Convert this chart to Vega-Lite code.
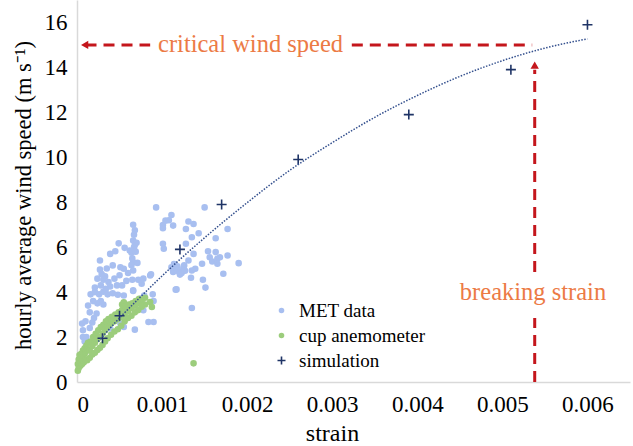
{
  "$schema": "https://vega.github.io/schema/vega-lite/v6.json",
  "width": 553,
  "height": 382,
  "autosize": {"type": "none"},
  "padding": {"left": 77, "top": 0, "right": 3, "bottom": 64},
  "background": "white",
  "config": {
    "font": "Liberation Serif",
    "view": {"stroke": null},
    "axis": {"grid": false, "ticks": false, "domainColor": "#d9d9d9", "domainWidth": 1.5, "labelColor": "#000000", "labelFontSize": 23, "titleFontSize": 22.5, "titleFontWeight": "normal", "titleColor": "#000000", "labelFont": "Liberation Serif", "titleFont": "Liberation Serif"},
    "legend": {"labelFont": "Liberation Serif"},
    "text": {"font": "Liberation Serif"}
  },
  "datasets": {
    "pts": [
      {"s":0.00007,"v":2.3,"g":"MET data"},{"s":0.00007,"v":2.0,"g":"MET data"},{"s":0.00009,"v":1.8,"g":"MET data"},{"s":0.00011,"v":2.0,"g":"MET data"},{"s":0.00006,"v":2.6,"g":"MET data"},{"s":0.0001,"v":2.7,"g":"MET data"},{"s":0.00015,"v":2.4,"g":"MET data"},{"s":0.00018,"v":2.65,"g":"MET data"},{"s":0.00015,"v":3.1,"g":"MET data"},{"s":0.0002,"v":2.85,"g":"MET data"},{"s":0.00023,"v":3.05,"g":"MET data"},{"s":0.00013,"v":3.4,"g":"MET data"},{"s":0.00019,"v":3.6,"g":"MET data"},{"s":0.00024,"v":3.5,"g":"MET data"},{"s":0.00028,"v":3.6,"g":"MET data"},{"s":0.00031,"v":3.45,"g":"MET data"},{"s":0.00016,"v":3.9,"g":"MET data"},{"s":0.00021,"v":4.0,"g":"MET data"},{"s":0.00026,"v":3.9,"g":"MET data"},{"s":0.00031,"v":4.02,"g":"MET data"},{"s":0.00036,"v":3.9,"g":"MET data"},{"s":0.00042,"v":3.95,"g":"MET data"},{"s":0.00048,"v":3.88,"g":"MET data"},{"s":0.00055,"v":3.85,"g":"MET data"},{"s":0.00066,"v":4.05,"g":"MET data"},{"s":0.00021,"v":4.2,"g":"MET data"},{"s":0.00028,"v":4.3,"g":"MET data"},{"s":0.00034,"v":4.15,"g":"MET data"},{"s":0.00039,"v":4.25,"g":"MET data"},{"s":0.00047,"v":4.3,"g":"MET data"},{"s":0.00053,"v":4.3,"g":"MET data"},{"s":0.00024,"v":4.6,"g":"MET data"},{"s":0.00029,"v":4.8,"g":"MET data"},{"s":0.00033,"v":4.7,"g":"MET data"},{"s":0.00027,"v":5.0,"g":"MET data"},{"s":0.00035,"v":5.05,"g":"MET data"},{"s":0.00031,"v":4.55,"g":"MET data"},{"s":0.00042,"v":5.19,"g":"MET data"},{"s":0.00051,"v":5.11,"g":"MET data"},{"s":0.00055,"v":5.04,"g":"MET data"},{"s":0.00066,"v":5.33,"g":"MET data"},{"s":0.00066,"v":4.96,"g":"MET data"},{"s":0.00065,"v":4.55,"g":"MET data"},{"s":0.00072,"v":4.55,"g":"MET data"},{"s":0.00027,"v":5.41,"g":"MET data"},{"s":0.00039,"v":5.7,"g":"MET data"},{"s":0.00045,"v":5.82,"g":"MET data"},{"s":0.00049,"v":6.17,"g":"MET data"},{"s":0.00056,"v":5.97,"g":"MET data"},{"s":0.00062,"v":5.85,"g":"MET data"},{"s":0.00065,"v":5.5,"g":"MET data"},{"s":0.00064,"v":5.75,"g":"MET data"},{"s":0.00067,"v":6.0,"g":"MET data"},{"s":0.00066,"v":6.3,"g":"MET data"},{"s":0.00067,"v":6.55,"g":"MET data"},{"s":0.00068,"v":6.1,"g":"MET data"},{"s":0.00068,"v":6.75,"g":"MET data"},{"s":0.0007,"v":6.2,"g":"MET data"},{"s":0.00069,"v":5.8,"g":"MET data"},{"s":0.00071,"v":5.3,"g":"MET data"},{"s":0.00064,"v":5.2,"g":"MET data"},{"s":0.00066,"v":7.0,"g":"MET data"},{"s":0.00093,"v":7.77,"g":"MET data"},{"s":0.00101,"v":6.99,"g":"MET data"},{"s":0.00104,"v":7.18,"g":"MET data"},{"s":0.00108,"v":7.2,"g":"MET data"},{"s":0.00111,"v":7.43,"g":"MET data"},{"s":0.00101,"v":6.84,"g":"MET data"},{"s":0.00113,"v":6.96,"g":"MET data"},{"s":0.00101,"v":6.15,"g":"MET data"},{"s":0.00102,"v":5.93,"g":"MET data"},{"s":0.00086,"v":4.74,"g":"MET data"},{"s":0.00066,"v":4.08,"g":"MET data"},{"s":0.00117,"v":4.12,"g":"MET data"},{"s":0.00075,"v":3.7,"g":"MET data"},{"s":0.00079,"v":3.85,"g":"MET data"},{"s":0.00089,"v":3.9,"g":"MET data"},{"s":0.0009,"v":3.6,"g":"MET data"},{"s":0.00078,"v":3.19,"g":"MET data"},{"s":0.00084,"v":2.67,"g":"MET data"},{"s":0.0009,"v":2.67,"g":"MET data"},{"s":0.00068,"v":2.33,"g":"MET data"},{"s":0.00039,"v":2.38,"g":"MET data"},{"s":0.00051,"v":2.6,"g":"MET data"},{"s":0.00055,"v":2.45,"g":"MET data"},{"s":0.00078,"v":4.6,"g":"MET data"},{"s":0.00076,"v":4.37,"g":"MET data"},{"s":0.00044,"v":4.6,"g":"MET data"},{"s":0.0005,"v":4.75,"g":"MET data"},{"s":0.00058,"v":4.5,"g":"MET data"},{"s":0.0006,"v":4.85,"g":"MET data"},{"s":0.00037,"v":4.45,"g":"MET data"},
      {"s":0.0015,"v":7.77,"g":"MET data"},{"s":0.00131,"v":7.14,"g":"MET data"},{"s":0.00137,"v":7.03,"g":"MET data"},{"s":0.00128,"v":6.81,"g":"MET data"},{"s":0.00143,"v":6.62,"g":"MET data"},{"s":0.00135,"v":6.44,"g":"MET data"},{"s":0.00163,"v":6.4,"g":"MET data"},{"s":0.00177,"v":6.81,"g":"MET data"},{"s":0.00128,"v":6.15,"g":"MET data"},{"s":0.00137,"v":5.7,"g":"MET data"},{"s":0.00154,"v":5.82,"g":"MET data"},{"s":0.00163,"v":5.78,"g":"MET data"},{"s":0.00156,"v":5.55,"g":"MET data"},{"s":0.00159,"v":5.36,"g":"MET data"},{"s":0.00165,"v":5.48,"g":"MET data"},{"s":0.00168,"v":5.55,"g":"MET data"},{"s":0.00177,"v":5.63,"g":"MET data"},{"s":0.00165,"v":5.26,"g":"MET data"},{"s":0.0019,"v":5.29,"g":"MET data"},{"s":0.00147,"v":5.26,"g":"MET data"},{"s":0.00131,"v":5.41,"g":"MET data"},{"s":0.00126,"v":5.19,"g":"MET data"},{"s":0.00111,"v":5.1,"g":"MET data"},{"s":0.00114,"v":5.25,"g":"MET data"},{"s":0.00117,"v":5.0,"g":"MET data"},{"s":0.0012,"v":4.9,"g":"MET data"},{"s":0.00118,"v":5.15,"g":"MET data"},{"s":0.00123,"v":4.85,"g":"MET data"},{"s":0.00125,"v":5.05,"g":"MET data"},{"s":0.00121,"v":4.78,"g":"MET data"},{"s":0.00127,"v":4.95,"g":"MET data"},{"s":0.00113,"v":4.9,"g":"MET data"},{"s":0.00135,"v":4.96,"g":"MET data"},{"s":0.00139,"v":5.04,"g":"MET data"},{"s":0.00134,"v":4.64,"g":"MET data"},{"s":0.00148,"v":4.55,"g":"MET data"},{"s":0.00172,"v":4.82,"g":"MET data"},{"s":0.00151,"v":4.2,"g":"MET data"},{"s":0.00116,"v":4.11,"g":"MET data"},{"s":0.00135,"v":3.29,"g":"MET data"},{"s":0.00087,"v":4.79,"g":"MET data"},
      {"s":0.00001,"v":0.5,"g":"cup anemometer"},{"s":0.00001,"v":0.8,"g":"cup anemometer"},{"s":0.00002,"v":0.62,"g":"cup anemometer"},{"s":0.00002,"v":1.0,"g":"cup anemometer"},{"s":0.00003,"v":1.2,"g":"cup anemometer"},{"s":0.00004,"v":0.72,"g":"cup anemometer"},{"s":0.00004,"v":0.95,"g":"cup anemometer"},{"s":0.00005,"v":1.25,"g":"cup anemometer"},{"s":0.00006,"v":0.8,"g":"cup anemometer"},{"s":0.00006,"v":1.1,"g":"cup anemometer"},{"s":0.00007,"v":1.4,"g":"cup anemometer"},{"s":0.00008,"v":0.88,"g":"cup anemometer"},{"s":0.00008,"v":1.2,"g":"cup anemometer"},{"s":0.00009,"v":1.5,"g":"cup anemometer"},{"s":0.0001,"v":1.0,"g":"cup anemometer"},{"s":0.0001,"v":1.32,"g":"cup anemometer"},{"s":0.00011,"v":1.62,"g":"cup anemometer"},{"s":0.00012,"v":0.97,"g":"cup anemometer"},{"s":0.00012,"v":1.45,"g":"cup anemometer"},{"s":0.00013,"v":1.75,"g":"cup anemometer"},{"s":0.00015,"v":1.08,"g":"cup anemometer"},{"s":0.00015,"v":1.4,"g":"cup anemometer"},{"s":0.00016,"v":1.8,"g":"cup anemometer"},{"s":0.00018,"v":1.22,"g":"cup anemometer"},{"s":0.00018,"v":1.6,"g":"cup anemometer"},{"s":0.00019,"v":2.0,"g":"cup anemometer"},{"s":0.00021,"v":1.3,"g":"cup anemometer"},{"s":0.00021,"v":1.75,"g":"cup anemometer"},{"s":0.00022,"v":2.15,"g":"cup anemometer"},{"s":0.00024,"v":1.42,"g":"cup anemometer"},{"s":0.00024,"v":1.9,"g":"cup anemometer"},{"s":0.00025,"v":2.3,"g":"cup anemometer"},{"s":0.00027,"v":1.52,"g":"cup anemometer"},{"s":0.00027,"v":2.0,"g":"cup anemometer"},{"s":0.00028,"v":2.45,"g":"cup anemometer"},{"s":0.0003,"v":1.65,"g":"cup anemometer"},{"s":0.0003,"v":2.15,"g":"cup anemometer"},{"s":0.00031,"v":2.55,"g":"cup anemometer"},{"s":0.00033,"v":1.8,"g":"cup anemometer"},{"s":0.00033,"v":2.3,"g":"cup anemometer"},{"s":0.00034,"v":2.7,"g":"cup anemometer"},{"s":0.00036,"v":1.95,"g":"cup anemometer"},{"s":0.00036,"v":2.45,"g":"cup anemometer"},{"s":0.00037,"v":2.8,"g":"cup anemometer"},{"s":0.0004,"v":2.1,"g":"cup anemometer"},{"s":0.0004,"v":2.6,"g":"cup anemometer"},{"s":0.00041,"v":2.9,"g":"cup anemometer"},{"s":0.00044,"v":2.25,"g":"cup anemometer"},{"s":0.00044,"v":2.7,"g":"cup anemometer"},{"s":0.00045,"v":3.0,"g":"cup anemometer"},{"s":0.00048,"v":2.35,"g":"cup anemometer"},{"s":0.00048,"v":2.8,"g":"cup anemometer"},{"s":0.00049,"v":3.1,"g":"cup anemometer"},{"s":0.00052,"v":2.5,"g":"cup anemometer"},{"s":0.00052,"v":2.9,"g":"cup anemometer"},{"s":0.00053,"v":3.2,"g":"cup anemometer"},{"s":0.00053,"v":3.45,"g":"cup anemometer"},{"s":0.00055,"v":3.55,"g":"cup anemometer"},{"s":0.00056,"v":2.7,"g":"cup anemometer"},{"s":0.00056,"v":3.0,"g":"cup anemometer"},{"s":0.00057,"v":3.35,"g":"cup anemometer"},{"s":0.0006,"v":2.85,"g":"cup anemometer"},{"s":0.0006,"v":3.15,"g":"cup anemometer"},{"s":0.00061,"v":3.45,"g":"cup anemometer"},{"s":0.00064,"v":2.95,"g":"cup anemometer"},{"s":0.00064,"v":3.3,"g":"cup anemometer"},{"s":0.00065,"v":3.5,"g":"cup anemometer"},{"s":0.00068,"v":3.1,"g":"cup anemometer"},{"s":0.00068,"v":3.4,"g":"cup anemometer"},{"s":0.00069,"v":3.6,"g":"cup anemometer"},{"s":0.00072,"v":3.2,"g":"cup anemometer"},{"s":0.00072,"v":3.5,"g":"cup anemometer"},{"s":0.00073,"v":3.7,"g":"cup anemometer"},{"s":0.00076,"v":3.35,"g":"cup anemometer"},{"s":0.00076,"v":3.6,"g":"cup anemometer"},{"s":0.0008,"v":3.45,"g":"cup anemometer"},{"s":0.0008,"v":3.75,"g":"cup anemometer"},{"s":0.00086,"v":3.56,"g":"cup anemometer"},{"s":0.00088,"v":3.34,"g":"cup anemometer"},{"s":0.00137,"v":0.83,"g":"cup anemometer"},
      {"s":0.0003,"v":1.95,"g":"simulation"},{"s":0.0005,"v":2.95,"g":"simulation"},{"s":0.00121,"v":5.9,"g":"simulation"},{"s":0.0017,"v":7.9,"g":"simulation"},{"s":0.0026,"v":9.9,"g":"simulation"},{"s":0.0039,"v":11.9,"g":"simulation"},{"s":0.0051,"v":13.9,"g":"simulation"},{"s":0.006,"v":15.9,"g":"simulation"}
    ],
    "trend": [
      {"s":0.00025,"v":1.8},{"s":0.0005,"v":2.85},{"s":0.00075,"v":3.8},{"s":0.001,"v":4.72},{"s":0.0015,"v":6.42},{"s":0.002,"v":7.98},{"s":0.0025,"v":9.42},{"s":0.003,"v":10.65},{"s":0.0035,"v":11.78},{"s":0.004,"v":12.75},{"s":0.0045,"v":13.6},{"s":0.005,"v":14.3},{"s":0.0055,"v":14.86},{"s":0.006,"v":15.27}
    ],
    "rules": [
      {"x":0.0001,"x2":0.00086,"y":15,"y2":15},
      {"x":0.00323,"x2":0.00535,"y":15,"y2":15},
      {"x":0.00538,"x2":0.00538,"y":0,"y2":2.85},
      {"x":0.00538,"x2":0.00538,"y":4.9,"y2":13.9}
    ],
    "heads": [
      {"x":0.00009,"y":15,"shape":"triangle-left"},
      {"x":0.00538,"y":14.1,"shape":"triangle-up"}
    ],
    "notes": [
      {"x":0.00204,"y":15,"t":"critical wind speed"},
      {"x":0.00536,"y":3.95,"t":"breaking strain"}
    ]
  },
  "layer": [
    {
      "data": {"name": "pts"},
      "mark": {"type": "point", "filled": true, "opacity": 1, "strokeWidth": 1.6, "size": 100},
      "encoding": {
        "x": {"field": "s", "type": "quantitative", "scale": {"domain": [0, 0.0065], "nice": false}, "axis": {"values": [0, 0.001, 0.002, 0.003, 0.004, 0.005, 0.006], "format": ".3~f", "labelFontSize": 23, "labelFont": "Liberation Serif", "labelBaseline": "alphabetic", "labelPadding": 29, "title": "strain", "titleFontSize": 24, "titleX": 255, "titleY": 58, "titleBaseline": "alphabetic", "titleAnchor": null}},
        "y": {"field": "v", "type": "quantitative", "scale": {"domain": [0, 17], "nice": false}, "axis": {"values": [0, 2, 4, 6, 8, 10, 12, 14, 16], "labelFontSize": 23, "labelFont": "Liberation Serif", "labelPadding": 10, "title": "hourly average wind speed (m s⁻¹)", "titleX": -54, "titleY": 195, "titleAngle": -90, "titleBaseline": "middle", "titleAlign": "center"}},
        "fill": {"field": "g", "type": "nominal", "scale": {"domain": ["MET data", "cup anemometer", "simulation"], "range": ["#a8bff0", "#9ccd7c", "transparent"]}, "legend": {"title": null, "orient": "none", "legendX": 195, "legendY": 301, "padding": 0, "labelFontSize": 19, "labelColor": "#000000", "labelOffset": 8, "rowPadding": 5, "symbolSize": 64, "symbolStrokeWidth": 1.6}},
        "stroke": {"field": "g", "type": "nominal", "scale": {"domain": ["MET data", "cup anemometer", "simulation"], "range": ["#a8bff0", "#9ccd7c", "#1f3466"]}, "legend": {"title": null, "orient": "none", "legendX": 195, "legendY": 301, "padding": 0, "labelFontSize": 19, "labelColor": "#000000", "labelOffset": 8, "rowPadding": 5, "symbolSize": 64, "symbolStrokeWidth": 1.6}},
        "shape": {"field": "g", "type": "nominal", "scale": {"domain": ["MET data", "cup anemometer", "simulation"], "range": ["M-0.5,0A0.5,0.5 0 1,0 0.5,0A0.5,0.5 0 1,0 -0.5,0Z", "M-0.5,0A0.5,0.5 0 1,0 0.5,0A0.5,0.5 0 1,0 -0.5,0Z", "M-1,0H1M0,-1V1"]}, "legend": {"title": null, "orient": "none", "legendX": 195, "legendY": 301, "padding": 0, "labelFontSize": 19, "labelColor": "#000000", "labelOffset": 8, "rowPadding": 5, "symbolSize": 64, "symbolStrokeWidth": 1.6}}
      }
    },
    {
      "data": {"name": "trend"},
      "mark": {"type": "line", "color": "#34508e", "strokeWidth": 1.5, "strokeDash": [1.5, 1.5], "interpolate": "monotone"},
      "encoding": {"x": {"field": "s", "type": "quantitative"}, "y": {"field": "v", "type": "quantitative"}}
    },
    {
      "data": {"name": "rules"},
      "mark": {"type": "rule", "color": "#c4161c", "strokeWidth": 3, "strokeDash": [11, 7]},
      "encoding": {"x": {"field": "x", "type": "quantitative"}, "x2": {"field": "x2"}, "y": {"field": "y", "type": "quantitative"}, "y2": {"field": "y2"}}
    },
    {
      "data": {"name": "heads"},
      "mark": {"type": "point", "filled": true, "opacity": 1, "color": "#c4161c", "size": 70},
      "encoding": {"x": {"field": "x", "type": "quantitative"}, "y": {"field": "y", "type": "quantitative"}, "shape": {"field": "shape", "type": "nominal", "scale": null, "legend": null}}
    },
    {
      "data": {"name": "notes"},
      "mark": {"type": "text", "color": "#ec7a45", "fontSize": 24.5, "font": "Liberation Serif", "align": "center", "baseline": "middle"},
      "encoding": {"x": {"field": "x", "type": "quantitative"}, "y": {"field": "y", "type": "quantitative"}, "text": {"field": "t"}}
    }
  ]
}
